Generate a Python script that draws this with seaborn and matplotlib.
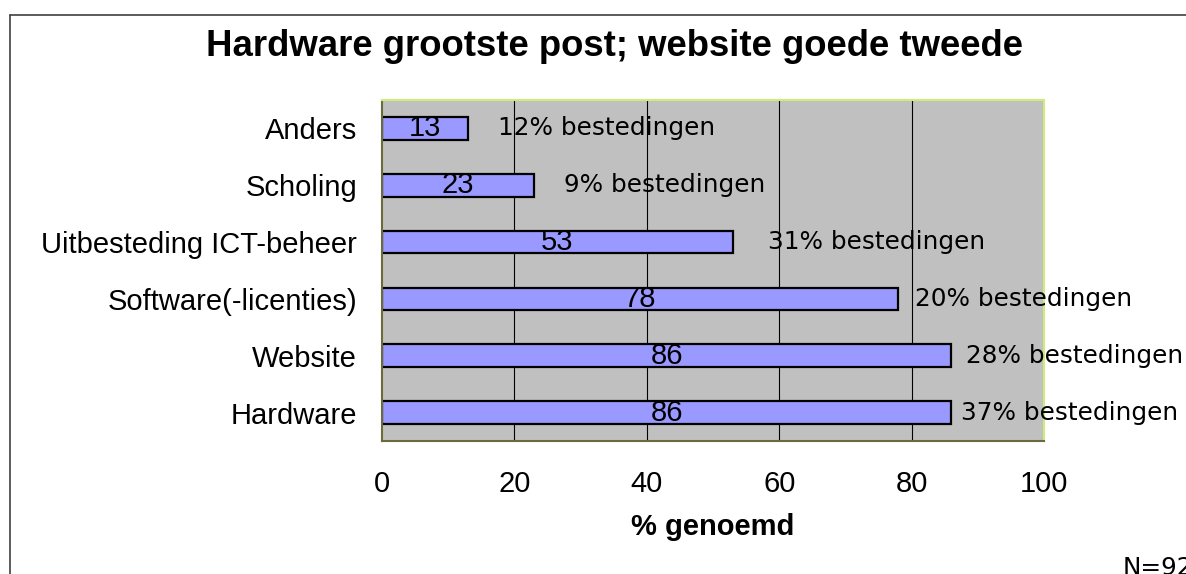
import matplotlib
import matplotlib.pyplot as plt
import seaborn as sns
from matplotlib.lines import Line2D

matplotlib.use("Agg")

CATEGORIES = [
    "Anders",
    "Scholing",
    "Uitbesteding ICT-beheer",
    "Software(-licenties)",
    "Website",
    "Hardware",
]
PCT_NAMED = [13, 23, 53, 78, 86, 86]
SPEND_SHARE = [12, 9, 31, 20, 28, 37]
NOTE_X = [17.5, 27.5, 58.3, 80.5, 88.2, 87.4]

TITLE = "Hardware grootste post; website goede tweede"
XLABEL = "% genoemd"
N_TEXT = "N=92"

BAR_COLOR = "#9999FF"
PLOT_BG = "#C0C0C0"
ARIAL = ["Liberation Sans", "DejaVu Sans"]
VERDANA = ["DejaVu Sans"]

sns.set_style("white")
plt.rcParams["font.family"] = ARIAL
plt.rcParams["text.color"] = "black"
plt.rcParams["xtick.color"] = "black"
plt.rcParams["ytick.color"] = "black"
plt.rcParams["axes.labelcolor"] = "black"

W, H = 1186, 574
fig = plt.figure(figsize=(W / 100, H / 100), dpi=100)
ax = fig.add_axes([382 / W, 1 - 441 / H, (1044 - 382) / W, (441 - 100) / H])
ax.set_facecolor(PLOT_BG)

sns.barplot(
    x=PCT_NAMED, y=CATEGORIES, orient="h", ax=ax,
    color=BAR_COLOR, saturation=1, edgecolor="black", linewidth=1.6, width=0.4,
)

ax.set_xlim(0, 100)
ax.set_ylim(5.5, -0.5)
ax.set_xticks(range(0, 101, 20))
ax.set_xticklabels([str(v) for v in range(0, 101, 20)], fontsize=21)
ax.tick_params(axis="x", length=7, width=1, color="#606060", labelcolor="black", pad=14)
ax.tick_params(axis="y", which="major", length=0, labelsize=21, labelcolor="black", pad=18)
ax.set_yticks([i + 0.5 for i in range(-1, 6)], minor=True)
ax.tick_params(axis="y", which="minor", length=7, width=1, color="#606060")
ax.set_ylabel("")
ax.set_xlabel(XLABEL, fontsize=21, fontweight="bold", labelpad=11)

for v in [20, 40, 60, 80]:
    ax.axvline(v, color="black", linewidth=0.8, zorder=0.5)

for side, col in [("left", "#6B6B3A"), ("bottom", "#6B6B3A"), ("top", "#CCEE77"), ("right", "#CCEE77")]:
    ax.spines[side].set_color(col)
    ax.spines[side].set_linewidth(1.5)
    ax.spines[side].set_visible(True)

for i, (val, share) in enumerate(zip(PCT_NAMED, SPEND_SHARE)):
    ax.text(val / 2, i, str(val), ha="center", va="center", fontsize=21, zorder=5)
    ax.text(NOTE_X[i], i, f"{share}% bestedingen", ha="left", va="center",
            fontsize=17.8, family=VERDANA, zorder=5, clip_on=False)

fig.text(615 / W, 1 - 47 / H, TITLE, ha="center", va="center", fontsize=26.3, fontweight="bold")
# the reference cuts this note off at the right/bottom edge as well
fig.text(1123 / W, 1 - 568 / H, N_TEXT, ha="left", va="center", fontsize=17.8, family=VERDANA)

# outer chart frame (runs off the right and bottom edges)
fig.add_artist(Line2D([10 / W, 1.0], [1 - 15 / H, 1 - 15 / H], color="#404040", linewidth=1.2))
fig.add_artist(Line2D([10 / W, 10 / W], [0.0, 1 - 15 / H], color="#404040", linewidth=1.2))

fig.savefig("out.png", dpi=100)
